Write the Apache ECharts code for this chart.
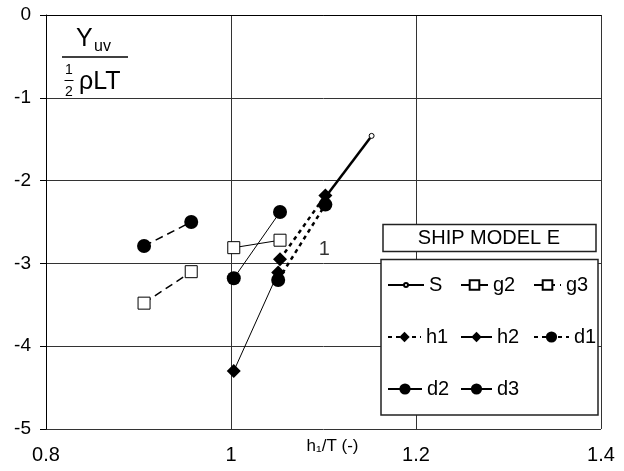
<!DOCTYPE html>
<html><head><meta charset="utf-8">
<script src="https://cdn.jsdelivr.net/npm/echarts@6/dist/echarts.min.js"></script>
<style>html,body{margin:0;padding:0;background:#fff}#c{width:624px;height:471px}</style>
</head><body><div id="c"></div>
<script>
// ---- data ----
const sX  = [1.102, 1.152];  const sY  = [-2.20, -1.46];
const g2X = [1.003, 1.053];  const g2Y = [-2.81, -2.72];
const g3X = [0.906, 0.957];  const g3Y = [-3.48, -3.10];
const h1X = [1.053, 1.102];  const h1Y = [-2.95, -2.18];
const h2X = [1.003, 1.051];  const h2Y = [-4.30, -3.11];
const d1X = [1.051, 1.102];  const d1Y = [-3.20, -2.29];
const d2X = [1.003, 1.053];  const d2Y = [-3.18, -2.38];
const d3X = [0.906, 0.957];  const d3Y = [-2.79, -2.50];
const noteX = [1.101]; const noteY = [-2.83]; const noteText = ['1'];
const legendTitle = 'SHIP MODEL E';
const xName = 'h₁/T (-)';
const FONT = 'Liberation Sans, Arial, sans-serif';

function pts(xs, ys) { return xs.map((x, i) => [x, ys[i]]); }

const white = { color: '#fff', borderColor: '#000', borderWidth: 1 };
const black = { color: '#000', borderColor: '#000', borderWidth: 0 };

const defs = [
  { name: 'S',  d: pts(sX, sY),   sym: 'circle',  size: 5,  it: white, ls: { color: '#000', width: 2.5, type: 'solid' } },
  { name: 'g2', d: pts(g2X, g2Y), sym: 'rect',    size: 12, it: white, ls: { color: '#000', width: 1, type: 'solid' } },
  { name: 'g3', d: pts(g3X, g3Y), sym: 'rect',    size: 12, it: white, ls: { color: '#000', width: 1.5, type: [8, 5] } },
  { name: 'h1', d: pts(h1X, h1Y), sym: 'diamond', size: 14, it: black, ls: { color: '#000', width: 2.5, type: [4, 4] } },
  { name: 'h2', d: pts(h2X, h2Y), sym: 'diamond', size: 14, it: black, ls: { color: '#000', width: 1, type: 'solid' } },
  { name: 'd1', d: pts(d1X, d1Y), sym: 'circle',  size: 14, it: black, ls: { color: '#000', width: 2.5, type: [4, 4] } },
  { name: 'd2', d: pts(d2X, d2Y), sym: 'circle',  size: 14, it: black, ls: { color: '#000', width: 1, type: 'solid' } },
  { name: 'd3', d: pts(d3X, d3Y), sym: 'circle',  size: 14, it: black, ls: { color: '#000', width: 1.5, type: [8, 5] } }
];

const series = defs.map(s => ({
  name: s.name, type: 'line', data: s.d, symbol: s.sym, symbolSize: s.size,
  showAllSymbol: true, itemStyle: s.it, lineStyle: s.ls, z: 2, silent: true,
  emphasis: { disabled: true }, animation: false
}));
series.push({
  name: 'note', type: 'scatter', data: pts(noteX, noteY), symbolSize: 0, silent: true, z: 3,
  label: { show: true, position: 'inside', formatter: p => noteText[p.dataIndex],
           fontSize: 20, color: '#000', fontFamily: FONT }
});

// legend layout: [name, left, rowCenter, itemWidth, itemHeight, override]
const legLayout = [
  ['S', 387, 286, 36, 5],  ['g2', 460, 286, 27, 12], ['g3', 533, 286, 27, 12],
  ['h1', 387, 338, 33, 13], ['h2', 460, 338, 31, 13], ['d1', 533, 338, 35, 14],
  ['d2', 387, 390, 34, 14], ['d3', 460, 390, 31, 14, { lineStyle: { type: 'solid', width: 2 } }]
];
const legends = legLayout.map(l => ({
  data: [Object.assign({ name: l[0] }, l[5] || {})],
  left: l[1], top: l[2] - 11, itemWidth: l[3], itemHeight: l[4], padding: 0,
  selectedMode: false, z: 6,
  textStyle: { fontSize: 20, color: '#000', fontFamily: FONT }
}));

const option = {
  animation: false,
  backgroundColor: '#fff',
  grid: { left: 46, right: 23, top: 15, bottom: 42, show: false, containLabel: false, outerBoundsMode: 'none' },
  xAxis: {
    type: 'value', min: 0.8, max: 1.4, interval: 0.2,
    axisLine: { show: true, lineStyle: { color: '#000', width: 1 } },
    axisTick: { show: false },
    axisLabel: { fontSize: 20, color: '#000', fontFamily: FONT, margin: 16 },
    splitLine: { show: true, lineStyle: { color: '#333', width: 1 } },
    name: xName, nameLocation: 'middle', nameGap: 9, nameMoveOverlap: false,
    nameTextStyle: { fontSize: 17, color: '#000', fontFamily: FONT, padding: [0, 0, 0, 18] }
  },
  yAxis: {
    type: 'value', min: -5, max: 0, interval: 1,
    axisLine: { show: true, lineStyle: { color: '#000', width: 1 } },
    axisTick: { show: true, length: 6, lineStyle: { color: '#000' } },
    axisLabel: { fontSize: 19, color: '#000', fontFamily: FONT, margin: 15 },
    splitLine: { show: true, lineStyle: { color: '#333', width: 1 } }
  },
  legend: legends,
  graphic: [
    { type: 'rect', shape: { x: 383, y: 224.5, width: 213, height: 27 }, z: 5,
      style: { fill: '#fff', stroke: '#222', lineWidth: 1.5 } },
    { type: 'text', x: 489, y: 238, z: 6,
      style: { text: legendTitle, fill: '#000', font: '20px ' + FONT, align: 'center', verticalAlign: 'middle' } },
    { type: 'rect', shape: { x: 381, y: 259.5, width: 217, height: 155.5 }, z: 5,
      style: { fill: '#fff', stroke: '#222', lineWidth: 1.5 } },
    // y-quantity label
    { type: 'text', x: 76, y: 39, z: 6,
      style: { text: 'Y', fill: '#000', font: '25px ' + FONT, verticalAlign: 'middle' } },
    { type: 'text', x: 94, y: 47, z: 6,
      style: { text: 'uv', fill: '#000', font: '16px ' + FONT, verticalAlign: 'middle' } },
    { type: 'line', shape: { x1: 62, y1: 57, x2: 128, y2: 57 }, z: 6,
      style: { stroke: '#000', lineWidth: 1.5 } },
    { type: 'text', x: 69, y: 70, z: 6,
      style: { text: '1', fill: '#000', font: '14px ' + FONT, align: 'center', verticalAlign: 'middle' } },
    { type: 'line', shape: { x1: 64.5, y1: 80.5, x2: 73.5, y2: 80.5 }, z: 6,
      style: { stroke: '#000', lineWidth: 1 } },
    { type: 'text', x: 69, y: 92, z: 6,
      style: { text: '2', fill: '#000', font: '14px ' + FONT, align: 'center', verticalAlign: 'middle' } },
    { type: 'text', x: 79, y: 82, z: 6,
      style: { text: 'ρLT', fill: '#000', font: '25px ' + FONT, verticalAlign: 'middle' } }
  ],
  series: series
};

const chart = echarts.init(document.getElementById('c'), null, { renderer: 'canvas' });
chart.setOption(option);
</script>
</body></html>
